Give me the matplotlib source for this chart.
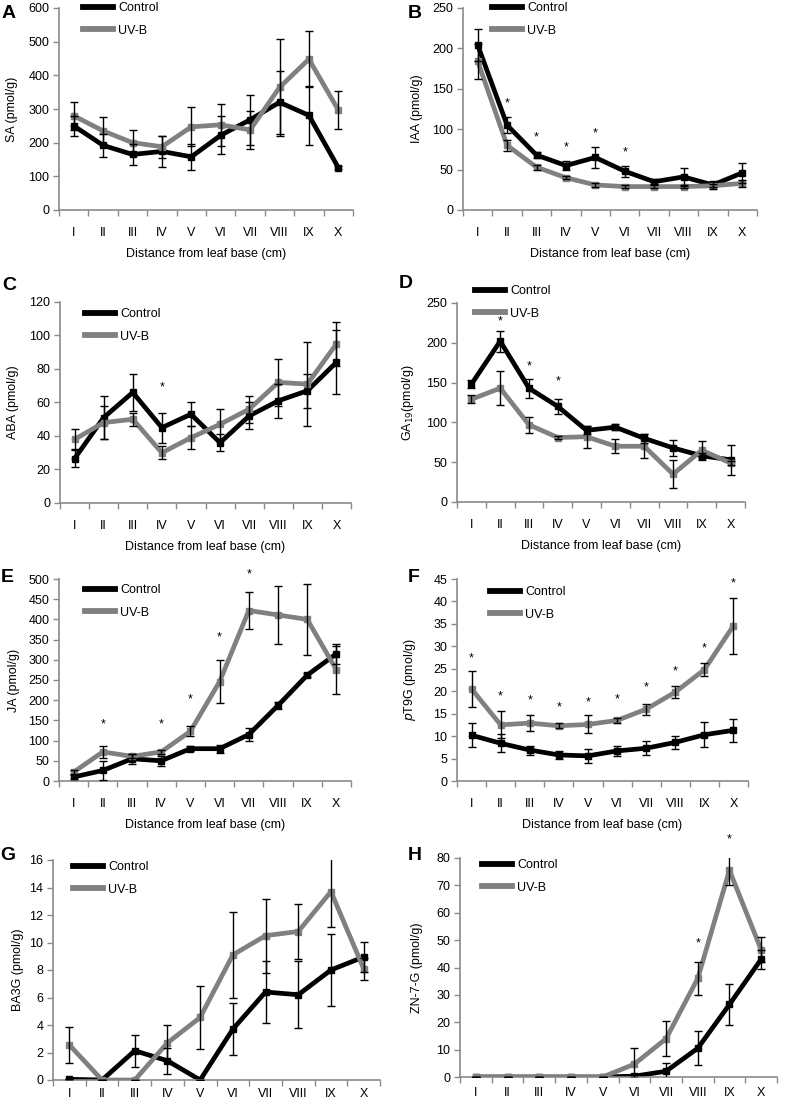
import numpy as np
import matplotlib.pyplot as plt
from matplotlib.lines import Line2D
from matplotlib.ticker import MultipleLocator, FixedLocator

plt.rcParams['font.family'] = ['Liberation Sans', 'DejaVu Sans']

# figure is built in pixel space (789 x 1105 at 100 dpi)
W, H = 789, 1105

categories = ["I", "II", "III", "IV", "V", "VI", "VII", "VIII", "IX", "X"]
series_names = ["Control", "UV-B"]

# A - SA
sa_ctrl = [250, 192, 165, 174, 158, 222, 268, 320, 281, 126]
sa_ctrl_err = [30, 35, 30, 45, 38, 57, 75, 94, 87, 4]
sa_uvb = [280, 235, 200, 188, 247, 253, 238, 364, 448, 297]
sa_uvb_err = [42, 40, 37, 33, 58, 62, 57, 143, 83, 57]
sa_stars = []

# B - IAA
iaa_ctrl = [204, 105, 68, 55, 65, 48, 35, 41, 31, 46]
iaa_ctrl_err = [20, 10, 4, 6, 13, 7, 3, 11, 5, 12]
iaa_uvb = [184, 80, 53, 40, 31, 29, 29, 29, 30, 33]
iaa_uvb_err = [22, 7, 3, 2, 2, 2, 2, 2, 2, 4]
iaa_stars = [(1, 132), (2, 90), (3, 78), (4, 95), (5, 71)]

# C - ABA
aba_ctrl = [26.5, 51, 66, 45, 53, 36, 52, 61, 67, 84]
aba_ctrl_err = [5, 13, 11, 9, 7, 5, 8, 10, 10, 19]
aba_uvb = [38, 48, 50, 30, 39, 47, 56, 72, 71, 95]
aba_uvb_err = [6, 10, 4, 4, 7, 9, 8, 14, 25, 13]
aba_stars = [(3, 69)]

# D - GA19
ga_ctrl = [148, 202, 143, 120, 90, 94, 80, 68, 58, 53]
ga_ctrl_err = [5, 13, 12, 10, 5, 4, 6, 10, 3, 19]
ga_uvb = [129, 143, 97, 81, 82, 70, 70, 35, 65, 49]
ga_uvb_err = [5, 21, 10, 2, 14, 9, 15, 18, 12, 3]
ga_stars = [(1, 227), (2, 170), (3, 152)]

# E - JA
ja_ctrl = [10, 26, 55, 50, 80, 80, 115, 187, 262, 315]
ja_ctrl_err = [5, 24, 12, 12, 6, 10, 15, 8, 5, 25]
ja_uvb = [22, 72, 61, 72, 123, 246, 422, 411, 400, 275]
ja_uvb_err = [5, 15, 5, 5, 12, 54, 45, 72, 88, 60]
ja_stars = [(1, 140), (3, 140), (4, 202), (5, 355), (6, 512)]

# F - pT9G
pt_ctrl = [10.2, 8.4, 6.9, 5.8, 5.6, 6.7, 7.3, 8.6, 10.3, 11.3]
pt_ctrl_err = [2.7, 2.0, 1.0, 0.8, 1.5, 1.2, 1.5, 1.5, 2.8, 2.6]
pt_uvb = [20.5, 12.5, 12.9, 12.3, 12.6, 13.5, 16.0, 19.8, 24.8, 34.6]
pt_uvb_err = [4.1, 3.0, 1.7, 0.6, 2.0, 0.6, 1.2, 1.4, 1.4, 6.2]
pt_stars = [(0, 27.3), (1, 18.8), (2, 18.0), (3, 16.3), (4, 17.5),
            (5, 18.2), (6, 20.8), (7, 24.5), (8, 29.6), (9, 44.1)]

# G - BA3G
ba_ctrl = [0.05, 0, 2.13, 1.4, 0, 3.7, 6.4, 6.2, 8.0, 8.95]
ba_ctrl_err = [0, 0, 1.15, 0.95, 0, 1.9, 2.25, 2.45, 2.6, 1.1]
ba_uvb = [2.55, 0, 0, 2.7, 4.55, 9.1, 10.5, 10.8, 13.7, 8.1]
ba_uvb_err = [1.3, 0, 0, 1.3, 2.3, 3.1, 2.7, 2.0, 2.55, 0.8]
ba_stars = []

# H - ZN-7-G
zn_ctrl = [0, 0, 0, 0, 0, 0.3, 2.1, 10.5, 26.5, 43]
zn_ctrl_err = [0, 0, 0, 0, 0, 0.5, 3.1, 6.2, 7.5, 3.5]
zn_uvb = [0, 0, 0, 0, 0, 4.7, 14, 36, 75.5, 46.5]
zn_uvb_err = [0, 0, 0, 0, 0, 6.0, 6.3, 6.0, 5.5, 4.5]
zn_stars = [(7, 48.7), (8, 86.7)]

BLACK = "#000000"
GRAY = "#808080"
SPINE = "#8a8a8a"
FS = 9


def px_rect(left, top, right, bottom):
    return [left / W, 1 - bottom / H, (right - left) / W, (bottom - top) / H]


panels = [
    # rect = axes box in px (l, t, r, b); ylab_x = right edge of y label; leg/let = px positions
    dict(letter="A", ylabel="SA (pmol/g)", ymax=600, step=100,
         ctrl=sa_ctrl, ctrl_err=sa_ctrl_err, uvb=sa_uvb, uvb_err=sa_uvb_err, stars=sa_stars,
         rect=(59, 8, 353, 210), ylab_x=18, leg=(83, 2), let=(9, 13), xlabel=True, tpad=12),
    dict(letter="B", ylabel="IAA (pmol/g)", ymax=250, step=50,
         ctrl=iaa_ctrl, ctrl_err=iaa_ctrl_err, uvb=iaa_uvb, uvb_err=iaa_uvb_err, stars=iaa_stars,
         rect=(463, 8, 757, 210), ylab_x=423, leg=(492, 2), let=(415, 13), xlabel=True, tpad=12),
    dict(letter="C", ylabel="ABA (pmol/g)", ymax=120, step=20,
         ctrl=aba_ctrl, ctrl_err=aba_ctrl_err, uvb=aba_uvb, uvb_err=aba_uvb_err, stars=aba_stars,
         rect=(60, 302, 351, 503), ylab_x=19, leg=(85, 308), let=(9, 285), xlabel=True, tpad=12),
    dict(letter="D", ylabel="GA$_{19}$(pmol/g)", ymax=250, step=50,
         ctrl=ga_ctrl, ctrl_err=ga_ctrl_err, uvb=ga_uvb, uvb_err=ga_uvb_err, stars=ga_stars,
         rect=(457, 303, 745, 502), ylab_x=416, leg=(475, 285), let=(406, 283), xlabel=True, tpad=12),
    dict(letter="E", ylabel="JA (pmol/g)", ymax=500, step=50,
         ctrl=ja_ctrl, ctrl_err=ja_ctrl_err, uvb=ja_uvb, uvb_err=ja_uvb_err, stars=ja_stars,
         rect=(59, 579, 351, 781), ylab_x=20, leg=(85, 584), let=(7, 578), xlabel=True, tpad=12),
    dict(letter="F", ylabel="$p$T9G (pmol/g)", ymax=45, step=5,
         ctrl=pt_ctrl, ctrl_err=pt_ctrl_err, uvb=pt_uvb, uvb_err=pt_uvb_err, stars=pt_stars,
         rect=(457, 579, 748, 781), ylab_x=418, leg=(490, 586), let=(414, 578), xlabel=True, tpad=12),
    dict(letter="G", ylabel="BA3G (pmol/g)", ymax=16, step=2,
         ctrl=ba_ctrl, ctrl_err=ba_ctrl_err, uvb=ba_uvb, uvb_err=ba_uvb_err, stars=ba_stars,
         rect=(53, 860, 380, 1080), ylab_x=24, leg=(73, 861), let=(8, 856), xlabel=False, tpad=6),
    dict(letter="H", ylabel="ZN-7-G (pmol/g)", ymax=80, step=10,
         ctrl=zn_ctrl, ctrl_err=zn_ctrl_err, uvb=zn_uvb, uvb_err=zn_uvb_err, stars=zn_stars,
         rect=(460, 858, 777, 1077), ylab_x=423, leg=(482, 859), let=(415, 855), xlabel=False, tpad=7),
]

fig = plt.figure(figsize=(W / 100, H / 100), dpi=100)

x = np.arange(len(categories))

for p in panels:
    ax = fig.add_axes(px_rect(*p["rect"]))

    ax.plot(x, p["ctrl"], color=BLACK, lw=3.4, marker="s", ms=4.5, zorder=2)
    ax.plot(x, p["uvb"], color=GRAY, lw=3.4, marker="s", ms=4.5, zorder=3)
    ax.errorbar(x, p["ctrl"], yerr=p["ctrl_err"], fmt="none", ecolor=BLACK,
                elinewidth=1.0, capsize=3, capthick=1.0, zorder=4)
    ax.errorbar(x, p["uvb"], yerr=p["uvb_err"], fmt="none", ecolor=BLACK,
                elinewidth=1.0, capsize=3, capthick=1.0, zorder=4)

    for i, y in p["stars"]:
        ax.text(i, y, "*", ha="center", va="center", fontsize=FS, clip_on=False)

    ax.set_xlim(-0.5, len(categories) - 0.5)
    ax.set_ylim(0, p["ymax"])
    ax.yaxis.set_major_locator(MultipleLocator(p["step"]))

    ax.set_xticks(x)
    ax.set_xticklabels(categories)
    ax.xaxis.set_minor_locator(FixedLocator(np.arange(-0.5, len(categories), 1.0)))
    ax.tick_params(axis="x", which="major", length=0, pad=p["tpad"], labelsize=FS)
    ax.tick_params(axis="x", which="minor", length=4, width=1, color=SPINE, direction="out")
    ax.tick_params(axis="y", length=4, width=1, color=SPINE, direction="out", pad=3, labelsize=FS)

    for side in ["top", "right"]:
        ax.spines[side].set_visible(False)
    for side in ["left", "bottom"]:
        ax.spines[side].set_color(SPINE)
        ax.spines[side].set_linewidth(1.2)

    l, t, r, b = p["rect"]
    ax.set_ylabel(p["ylabel"], fontsize=FS)
    ax.yaxis.set_label_coords((p["ylab_x"] - l) / (r - l), 0.5)

    if p["xlabel"]:
        ax.set_xlabel("Distance from leaf base (cm)", fontsize=FS, labelpad=7)

    handles = [Line2D([], [], color=BLACK, lw=4.2), Line2D([], [], color=GRAY, lw=4.2)]
    lx, ly = p["leg"]
    ax.legend(handles, series_names, loc="upper left",
              bbox_to_anchor=(lx / W, 1 - ly / H), bbox_transform=fig.transFigure,
              frameon=False, fontsize=FS, borderpad=0, borderaxespad=0,
              handlelength=2.4, handletextpad=0.4, labelspacing=0.85)

    fx, fy = p["let"]
    fig.text(fx / W, 1 - fy / H, p["letter"], fontsize=14, fontweight="bold",
             ha="center", va="center")

fig.savefig("out.png", dpi=100)
